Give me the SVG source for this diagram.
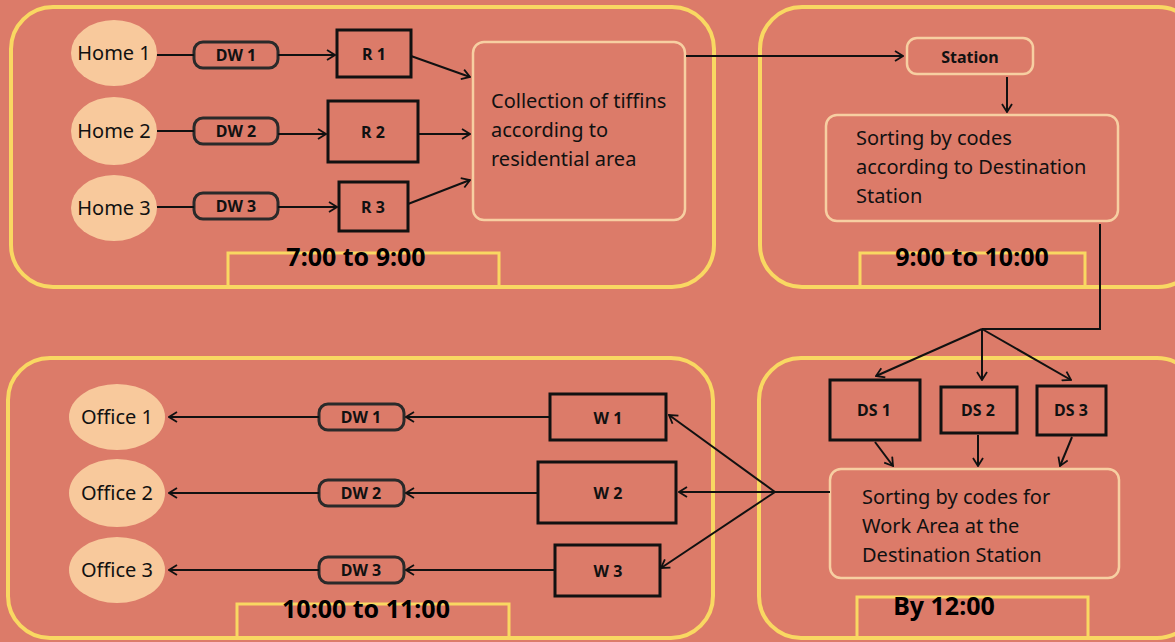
<svg xmlns="http://www.w3.org/2000/svg" width="1175" height="642" viewBox="0 0 1175 642">
<style>
.panel{fill:none;stroke:#F9D862;stroke-width:4}
.tab{fill:none;stroke:#F9D862;stroke-width:3}
.home{fill:#F8C99C;stroke:none}
.pill{fill:none;stroke:#2a2a2a;stroke-width:3}
.box{fill:none;stroke:#111;stroke-width:3}
.soft{fill:none;stroke:#F7CFA2;stroke-width:2.5}
.t{font-family:"Noto Sans","Liberation Sans",sans-serif;font-size:20px;fill:#111}
.tb{font-family:"Noto Sans","Liberation Sans",sans-serif;font-size:16px;font-weight:bold;fill:#111}
.tt{font-family:"Noto Sans","Liberation Sans",sans-serif;font-size:25px;font-weight:bold;fill:#000}
.c{fill:none;stroke:#111;stroke-width:2}
</style>
<defs>
<marker id="ar" viewBox="0 0 10 12" refX="9" refY="6" markerWidth="10" markerHeight="12" markerUnits="userSpaceOnUse" orient="auto">
<path d="M1,1 L9,6 L1,11" fill="none" stroke="#111" stroke-width="1.8"/>
</marker>
</defs>
<rect width="1175" height="642" fill="#DC7B69"/>

<g id="panel-top-left">
<rect class="panel" x="11" y="7" width="703" height="280" rx="42"/>
<path class="tab" d="M228,287 V253 H499 V287"/>
<text class="tt" x="356" y="266" text-anchor="middle">7:00 to 9:00</text>
</g>
<g id="panel-top-right">
<rect class="panel" x="760" y="7" width="440" height="280" rx="42"/>
<path class="tab" d="M860,287 V253 H1085 V287"/>
<text class="tt" x="972" y="266" text-anchor="middle">9:00 to 10:00</text>
</g>
<g id="panel-bottom-left">
<rect class="panel" x="8" y="358" width="705" height="280" rx="42"/>
<path class="tab" d="M237,638 V604 H509 V638"/>
<text class="tt" x="366" y="618" text-anchor="middle">10:00 to 11:00</text>
</g>
<g id="panel-bottom-right">
<rect class="panel" x="759" y="358" width="440" height="280" rx="42"/>
<path class="tab" d="M857,638 V597 H1088 V638"/>
<text class="tt" x="944" y="615" text-anchor="middle">By 12:00</text>
</g>

<g id="home1"><ellipse class="home" cx="114" cy="53" rx="43" ry="33"/><text class="t" x="114" y="60" text-anchor="middle">Home 1</text></g>
<g id="home2"><ellipse class="home" cx="114" cy="131" rx="43" ry="34"/><text class="t" x="114" y="138" text-anchor="middle">Home 2</text></g>
<g id="home3"><ellipse class="home" cx="114" cy="208" rx="43" ry="33"/><text class="t" x="114" y="215" text-anchor="middle">Home 3</text></g>

<g id="dw1-top"><rect class="pill" x="194" y="42" width="84" height="26" rx="9"/><text class="tb" x="236" y="61" text-anchor="middle">DW 1</text></g>
<g id="dw2-top"><rect class="pill" x="194" y="118" width="84" height="26" rx="9"/><text class="tb" x="236" y="137" text-anchor="middle">DW 2</text></g>
<g id="dw3-top"><rect class="pill" x="194" y="193" width="84" height="26" rx="9"/><text class="tb" x="236" y="212" text-anchor="middle">DW 3</text></g>

<g id="r1"><rect class="box" x="337" y="30" width="74" height="47"/><text class="tb" x="374" y="60" text-anchor="middle">R 1</text></g>
<g id="r2"><rect class="box" x="328" y="101" width="90" height="61"/><text class="tb" x="373" y="138" text-anchor="middle">R 2</text></g>
<g id="r3"><rect class="box" x="339" y="182" width="69" height="49"/><text class="tb" x="373" y="213" text-anchor="middle">R 3</text></g>

<g id="collection"><rect class="soft" x="473" y="42" width="212" height="178" rx="11"/>
<text class="t" x="491" y="108">Collection of tiffins</text>
<text class="t" x="491" y="137">according to</text>
<text class="t" x="491" y="166">residential area</text></g>

<g id="station"><rect class="soft" x="907" y="38" width="126" height="36" rx="10"/><text class="tb" x="970" y="63" text-anchor="middle">Station</text></g>

<g id="sorting-dest"><rect class="soft" x="826" y="115" width="292" height="106" rx="11"/>
<text class="t" x="856" y="145">Sorting by codes</text>
<text class="t" x="856" y="174">according to Destination</text>
<text class="t" x="856" y="203">Station</text></g>

<g id="ds1"><rect class="box" x="830" y="380" width="90" height="60"/><text class="tb" x="874" y="416" text-anchor="middle">DS 1</text></g>
<g id="ds2"><rect class="box" x="941" y="387" width="76" height="46"/><text class="tb" x="978" y="416" text-anchor="middle">DS 2</text></g>
<g id="ds3"><rect class="box" x="1037" y="386" width="69" height="49"/><text class="tb" x="1071" y="416" text-anchor="middle">DS 3</text></g>

<g id="sorting-work"><rect class="soft" x="830" y="469" width="289" height="109" rx="11"/>
<text class="t" x="862" y="504">Sorting by codes for</text>
<text class="t" x="862" y="533">Work Area at the</text>
<text class="t" x="862" y="562">Destination Station</text></g>

<g id="w1"><rect class="box" x="550" y="394" width="116" height="46"/><text class="tb" x="608" y="424" text-anchor="middle">W 1</text></g>
<g id="w2"><rect class="box" x="538" y="462" width="138" height="61"/><text class="tb" x="608" y="499" text-anchor="middle">W 2</text></g>
<g id="w3"><rect class="box" x="555" y="545" width="105" height="51"/><text class="tb" x="608" y="577" text-anchor="middle">W 3</text></g>

<g id="dw1-bottom"><rect class="pill" x="319" y="404" width="85" height="26" rx="9"/><text class="tb" x="361" y="423" text-anchor="middle">DW 1</text></g>
<g id="dw2-bottom"><rect class="pill" x="319" y="480" width="85" height="26" rx="9"/><text class="tb" x="361" y="499" text-anchor="middle">DW 2</text></g>
<g id="dw3-bottom"><rect class="pill" x="319" y="557" width="85" height="26" rx="9"/><text class="tb" x="361" y="576" text-anchor="middle">DW 3</text></g>

<g id="office1"><ellipse class="home" cx="117" cy="417" rx="48" ry="33"/><text class="t" x="117" y="424" text-anchor="middle">Office 1</text></g>
<g id="office2"><ellipse class="home" cx="117" cy="493" rx="48" ry="34"/><text class="t" x="117" y="500" text-anchor="middle">Office 2</text></g>
<g id="office3"><ellipse class="home" cx="117" cy="570" rx="48" ry="33"/><text class="t" x="117" y="577" text-anchor="middle">Office 3</text></g>

<g id="connectors">
<line class="c" x1="157" y1="55" x2="194" y2="55"/>
<line class="c" x1="157" y1="131" x2="194" y2="131"/>
<line class="c" x1="157" y1="207" x2="194" y2="207"/>
<line class="c" x1="278" y1="55" x2="335" y2="55" marker-end="url(#ar)"/>
<line class="c" x1="278" y1="134" x2="326" y2="134" marker-end="url(#ar)"/>
<line class="c" x1="278" y1="207" x2="337" y2="207" marker-end="url(#ar)"/>
<line class="c" x1="411" y1="56" x2="470" y2="77" marker-end="url(#ar)"/>
<line class="c" x1="418" y1="134" x2="470" y2="134" marker-end="url(#ar)"/>
<line class="c" x1="408" y1="204" x2="470" y2="180" marker-end="url(#ar)"/>
<line class="c" x1="686" y1="56" x2="903" y2="56" marker-end="url(#ar)"/>
<line class="c" x1="1007" y1="77" x2="1007" y2="112" marker-end="url(#ar)"/>
<polyline class="c" points="1100,224 1100,329 982,329"/>
<line class="c" x1="982" y1="329" x2="876" y2="376" marker-end="url(#ar)"/>
<line class="c" x1="982" y1="329" x2="982" y2="380" marker-end="url(#ar)"/>
<line class="c" x1="982" y1="329" x2="1071" y2="380" marker-end="url(#ar)"/>
<line class="c" x1="875" y1="442" x2="893" y2="466" marker-end="url(#ar)"/>
<line class="c" x1="978" y1="435" x2="978" y2="466" marker-end="url(#ar)"/>
<line class="c" x1="1072" y1="437" x2="1060" y2="466" marker-end="url(#ar)"/>
<line class="c" x1="830" y1="492" x2="775" y2="492"/>
<line class="c" x1="775" y1="492" x2="669" y2="415" marker-end="url(#ar)"/>
<line class="c" x1="775" y1="492" x2="679" y2="492" marker-end="url(#ar)"/>
<line class="c" x1="775" y1="492" x2="661" y2="568" marker-end="url(#ar)"/>
<line class="c" x1="550" y1="417" x2="406" y2="417" marker-end="url(#ar)"/>
<line class="c" x1="319" y1="417" x2="169" y2="417" marker-end="url(#ar)"/>
<line class="c" x1="538" y1="493" x2="406" y2="493" marker-end="url(#ar)"/>
<line class="c" x1="319" y1="493" x2="169" y2="493" marker-end="url(#ar)"/>
<line class="c" x1="555" y1="570" x2="406" y2="570" marker-end="url(#ar)"/>
<line class="c" x1="319" y1="570" x2="169" y2="570" marker-end="url(#ar)"/>
</g>
</svg>
